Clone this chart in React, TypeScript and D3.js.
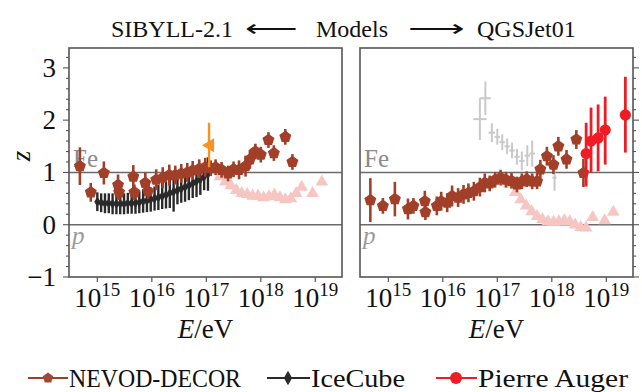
import React from 'react';
import * as d3 from 'd3';

// ---------- data ----------
// NEVOD-DECOR, SIBYLL-2.1 (log10 E, z, error)
const nevodSibLogE = [14.68, 14.88, 15.12, 15.38, 15.40, 15.66, 15.68, 15.88, 15.93, 16.08, 16.20, 16.32, 16.43, 16.54, 16.65, 16.75, 16.87, 16.98, 17.08, 17.17, 17.28, 17.40, 17.50, 17.60, 17.72, 17.80, 17.90, 18.00, 18.14, 18.24, 18.45, 18.58];
const nevodSibZ = [1.12, 0.62, 0.99, 0.76, 0.62, 0.92, 0.62, 0.80, 0.64, 0.86, 0.90, 0.95, 0.95, 0.98, 1.00, 1.04, 1.07, 1.10, 1.08, 1.10, 1.05, 0.98, 1.06, 1.05, 1.12, 1.25, 1.40, 1.34, 1.62, 1.37, 1.68, 1.20];
const nevodSibErr = [0.36, 0.18, 0.22, 0.20, 0.15, 0.22, 0.15, 0.20, 0.15, 0.20, 0.20, 0.20, 0.18, 0.18, 0.18, 0.18, 0.18, 0.18, 0.15, 0.15, 0.15, 0.15, 0.15, 0.18, 0.20, 0.18, 0.15, 0.15, 0.15, 0.15, 0.15, 0.15];

// IceCube, SIBYLL-2.1
const iceLogE = [15.00, 15.07, 15.14, 15.21, 15.28, 15.35, 15.42, 15.49, 15.56, 15.63, 15.70, 15.77, 15.84, 15.91, 15.98, 16.05, 16.12, 16.19, 16.26, 16.33, 16.40, 16.47, 16.54, 16.61, 16.68, 16.75, 16.82, 16.89, 16.96, 17.03];
const iceZ = [0.44, 0.42, 0.41, 0.41, 0.40, 0.40, 0.40, 0.40, 0.41, 0.41, 0.42, 0.43, 0.45, 0.46, 0.48, 0.50, 0.52, 0.55, 0.57, 0.60, 0.63, 0.66, 0.69, 0.72, 0.75, 0.79, 0.83, 0.87, 0.92, 0.97];
const iceErr = [0.18, 0.18, 0.19, 0.19, 0.20, 0.20, 0.20, 0.20, 0.20, 0.20, 0.21, 0.21, 0.22, 0.22, 0.23, 0.23, 0.24, 0.25, 0.26, 0.28, 0.38, 0.27, 0.27, 0.28, 0.28, 0.28, 0.30, 0.30, 0.26, 0.32];

// extra point (orange), SIBYLL-2.1
const orangeLogE = [17.05];
const orangeZ = [1.52];
const orangeLo = [1.10];
const orangeHi = [1.95];

// light triangles, SIBYLL-2.1
const triSibLogE = [17.25, 17.35, 17.45, 17.55, 17.65, 17.75, 17.85, 17.95, 18.05, 18.15, 18.25, 18.35, 18.45, 18.55, 18.65, 18.75, 18.95, 19.12];
const triSibZ = [0.92, 0.82, 0.75, 0.66, 0.60, 0.58, 0.55, 0.55, 0.52, 0.54, 0.57, 0.52, 0.48, 0.50, 0.60, 0.72, 0.60, 0.82];

// NEVOD-DECOR, QGSJet01
const nevodQgsLogE = [14.67, 14.90, 15.12, 15.36, 15.46, 15.67, 15.68, 15.89, 15.97, 16.08, 16.17, 16.28, 16.38, 16.47, 16.57, 16.68, 16.77, 16.86, 16.96, 17.06, 17.16, 17.26, 17.36, 17.45, 17.54, 17.64, 17.73, 17.79, 17.91, 18.03, 18.12, 18.27, 18.45, 18.58];
const nevodQgsZ = [0.47, 0.36, 0.49, 0.30, 0.36, 0.45, 0.24, 0.36, 0.45, 0.42, 0.55, 0.52, 0.58, 0.61, 0.64, 0.72, 0.80, 0.79, 0.86, 0.90, 0.86, 0.84, 0.77, 0.83, 0.87, 0.83, 0.83, 1.06, 1.31, 1.15, 1.50, 1.25, 1.63, 0.99];
const nevodQgsErr = [0.42, 0.15, 0.33, 0.20, 0.15, 0.20, 0.15, 0.18, 0.18, 0.18, 0.20, 0.18, 0.18, 0.18, 0.18, 0.18, 0.18, 0.15, 0.15, 0.15, 0.15, 0.15, 0.15, 0.15, 0.15, 0.15, 0.15, 0.18, 0.18, 0.18, 0.18, 0.18, 0.18, 0.27];

// Pierre Auger, QGSJet01
const augerLogE = [18.63, 18.72, 18.85, 18.98, 19.35];
const augerZ = [1.36, 1.60, 1.66, 1.81, 2.10];
const augerLo = [0.73, 1.00, 1.02, 1.15, 1.38];
const augerHi = [1.95, 2.24, 2.30, 2.45, 2.83];

// grey crosses, QGSJet01
const crossLogE = [16.68, 16.78, 16.90, 17.00, 17.09, 17.18, 17.27, 17.36, 17.45, 17.55, 17.64, 18.05];
const crossZ = [2.02, 2.42, 1.76, 1.68, 1.58, 1.50, 1.42, 1.30, 1.22, 1.32, 1.36, 0.90];
const crossErrZ = [0.40, 0.32, 0.18, 0.15, 0.15, 0.15, 0.15, 0.15, 0.18, 0.20, 0.25, 0.25];
const crossErrLogE = [0.12, 0.10, 0.06, 0.05, 0.05, 0.05, 0.05, 0.05, 0.05, 0.05, 0.05, 0.04];

// light triangles, QGSJet01
const triQgsLogE = [17.22, 17.33, 17.43, 17.53, 17.63, 17.73, 17.83, 17.93, 18.03, 18.13, 18.23, 18.33, 18.43, 18.53, 18.63, 18.75, 18.97, 19.13];
const triQgsZ = [0.78, 0.62, 0.48, 0.36, 0.25, 0.16, 0.10, 0.06, 0.05, 0.06, 0.08, 0.06, 0.00, -0.05, -0.06, 0.14, 0.08, 0.24];

const xTickExps = [15, 16, 17, 18, 19];
const yTickLabels = [3, 2, 1, 0, -1];
const legendLabels = ['NEVOD-DECOR', 'IceCube', 'Pierre Auger'];

// ---------- style ----------
const BROWN = '#a13f29';
const BLACK = '#2a2a2a';
const RED = '#ee1c25';
const PINK = '#f6c6c3';
const GREY = '#c9c9c9';
const ORANGE = '#f7931e';
const FRAME = '#555';
const FONT = 'Liberation Serif';

const Y_TOP = 48;
const Y_BOT = 277;

function pentagonPath(cx: number, cy: number, r: number) {
  const pts: string[] = [];
  for (let i = 0; i < 5; i++) {
    const a = -Math.PI / 2 + (i * 2 * Math.PI) / 5;
    pts.push(`${cx + r * Math.cos(a)},${cy + r * Math.sin(a)}`);
  }
  return 'M' + pts.join('L') + 'Z';
}

function Panel({ x0, x1, side, which }: { x0: number; x1: number; side: 'left' | 'right'; which: 'sib' | 'qgs' }) {
  const x = d3.scaleLog().domain([Math.pow(10, 14.48), Math.pow(10, 19.49)]).range([x0, x1]);
  const y = d3.scaleLinear().domain([-1, 3.38]).range([Y_BOT, Y_TOP]);
  const X = (l: number) => x(Math.pow(10, l));
  const minor = d3.range(-1, 3.39, 0.2).map((v) => Math.round(v * 10) / 10);
  const triSym = d3.symbol().type(d3.symbolTriangle).size(70);
  const diaSym = d3.symbol().type(d3.symbolDiamond).size(32);

  const nl = which === 'sib' ? nevodSibLogE : nevodQgsLogE;
  const nz = which === 'sib' ? nevodSibZ : nevodQgsZ;
  const ne = which === 'sib' ? nevodSibErr : nevodQgsErr;
  const tl = which === 'sib' ? triSibLogE : triQgsLogE;
  const tz = which === 'sib' ? triSibZ : triQgsZ;

  return (
    <g>
      <defs>
        <clipPath id={`clip-${which}`}>
          <rect x={x0} y={Y_TOP} width={x1 - x0} height={Y_BOT - Y_TOP} />
        </clipPath>
      </defs>
      {/* reference lines */}
      <line x1={x0} x2={x1} y1={y(1)} y2={y(1)} stroke="#6a6a6a" strokeWidth={1.5} />
      <line x1={x0} x2={x1} y1={y(0)} y2={y(0)} stroke="#6a6a6a" strokeWidth={1.5} />
      <text x={x0 + 4} y={y(1) - 5} fontFamily={FONT} fontSize={25} fill="#8a8a8a">Fe</text>
      <text x={x0 + 3} y={y(0) + 19} fontFamily={FONT} fontSize={25} fontStyle="italic" fill="#9a9a9a">p</text>

      <g clipPath={`url(#clip-${which})`}>
        {/* light triangles */}
        {tl.map((l, i) => (
          <path key={'t' + i} d={triSym() as string} transform={`translate(${X(l)},${y(tz[i])})`} fill={PINK} />
        ))}
        {/* grey crosses */}
        {which === 'qgs' &&
          crossLogE.map((l, i) => (
            <g key={'c' + i} stroke={GREY} strokeWidth={2}>
              <line x1={X(l)} x2={X(l)} y1={y(crossZ[i] - crossErrZ[i])} y2={y(crossZ[i] + crossErrZ[i])} />
              <line x1={X(l - crossErrLogE[i])} x2={X(l + crossErrLogE[i])} y1={y(crossZ[i])} y2={y(crossZ[i])} />
            </g>
          ))}
        {/* IceCube */}
        {which === 'sib' &&
          iceLogE.map((l, i) => (
            <g key={'i' + i}>
              <line x1={X(l)} x2={X(l)} y1={y(iceZ[i] - iceErr[i])} y2={y(iceZ[i] + iceErr[i])} stroke={BLACK} strokeWidth={2.4} />
              <path d={diaSym() as string} transform={`translate(${X(l)},${y(iceZ[i])})`} fill={BLACK} />
            </g>
          ))}
        {/* NEVOD-DECOR */}
        {nl.map((l, i) => (
          <line key={'ne' + i} x1={X(l)} x2={X(l)} y1={y(nz[i] - ne[i])} y2={y(nz[i] + ne[i])} stroke={BROWN} strokeWidth={2.6} />
        ))}
        {nl.map((l, i) => (
          <path key={'np' + i} d={pentagonPath(X(l), y(nz[i]), 6.3)} fill={BROWN} />
        ))}
        {/* orange */}
        {which === 'sib' &&
          orangeLogE.map((l, i) => (
            <g key={'o' + i}>
              <line x1={X(l)} x2={X(l)} y1={y(orangeLo[i])} y2={y(orangeHi[i])} stroke={ORANGE} strokeWidth={2.4} />
              <path
                d={`M${X(l) - 7},${y(orangeZ[i])}L${X(l) + 5},${y(orangeZ[i]) - 7}L${X(l) + 5},${y(orangeZ[i]) + 7}Z`}
                fill={ORANGE}
              />
            </g>
          ))}
        {/* Pierre Auger */}
        {which === 'qgs' &&
          augerLogE.map((l, i) => (
            <g key={'a' + i}>
              <line x1={X(l)} x2={X(l)} y1={y(augerLo[i])} y2={y(augerHi[i])} stroke={RED} strokeWidth={2.8} />
              <circle cx={X(l)} cy={y(augerZ[i])} r={5.6} fill={RED} />
            </g>
          ))}
      </g>

      {/* frame */}
      <rect x={x0} y={Y_TOP} width={x1 - x0} height={Y_BOT - Y_TOP} fill="none" stroke={FRAME} strokeWidth={1.6} />

      {/* x ticks */}
      {xTickExps.map((e) => (
        <g key={'x' + e}>
          <line x1={X(e)} x2={X(e)} y1={Y_BOT} y2={Y_BOT + 5} stroke={FRAME} strokeWidth={1.2} />
          <text x={X(e)} y={307} textAnchor="middle" fontFamily={FONT} fontSize={27} fill="#111">
            10<tspan dy={-11} fontSize={19}>{e}</tspan>
          </text>
        </g>
      ))}
      <text x={(x0 + x1) / 2} y={338} textAnchor="middle" fontFamily={FONT} fontSize={27} fill="#111">
        <tspan fontStyle="italic">E</tspan>/eV
      </text>

      {/* y ticks */}
      {minor.map((v) => {
        const isMajor = Math.abs(v - Math.round(v)) < 1e-6;
        const len = isMajor ? 6 : 3;
        const xe = side === 'left' ? x0 : x1;
        const dir = side === 'left' ? -1 : 1;
        return <line key={'y' + v} x1={xe} x2={xe + dir * len} y1={y(v)} y2={y(v)} stroke={FRAME} strokeWidth={1.1} />;
      })}
      {side === 'left' &&
        yTickLabels.map((v) => (
          <text key={'yl' + v} x={x0 - 13} y={y(v) + 9} textAnchor="end" fontFamily={FONT} fontSize={27} fill="#111">
            {v < 0 ? '\u2212' + Math.abs(v) : v}
          </text>
        ))}
    </g>
  );
}

export default function App() {
  const legendY = 378;
  return (
    <svg width={642} height={392} style={{ display: 'block', position: 'absolute', left: 0, top: 0, background: '#fff' }}>
      <rect width={642} height={392} fill="#fff" />
      {/* title */}
      <g fontFamily={FONT} fontSize={24} fill="#111">
        <text x={233} y={37} textAnchor="end">SIBYLL-2.1</text>
        <text x={271} y={37} textAnchor="middle" textLength={52} lengthAdjust="spacingAndGlyphs">{'\u27F5'}</text>
        <text x={352} y={37} textAnchor="middle">Models</text>
        <text x={436} y={37} textAnchor="middle" textLength={56} lengthAdjust="spacingAndGlyphs">{'\u27F6'}</text>
        <text x={477} y={37} textAnchor="start">QGSJet01</text>
      </g>
      {/* y label */}
      <text transform="translate(30,156) rotate(-90)" textAnchor="middle" fontFamily={FONT} fontSize={27} fontStyle="italic" fill="#111">z</text>

      <Panel x0={69} x1={342} side="left" which="sib" />
      <Panel x0={360} x1={633} side="right" which="qgs" />

      {/* legend */}
      <g fontFamily={FONT} fontSize={25} fill="#111">
        <line x1={28} x2={68} y1={legendY} y2={legendY} stroke={BROWN} strokeWidth={2} />
        <path d={pentagonPath(48, legendY, 5.5)} fill="#9a4a38" />
        <text x={69} y={legendY + 9} textLength={172} lengthAdjust="spacingAndGlyphs">{legendLabels[0]}</text>

        <line x1={267} x2={310} y1={legendY} y2={legendY} stroke={BLACK} strokeWidth={2} />
        <path d={d3.symbol().type(d3.symbolDiamond).size(60)() as string} transform={`translate(288,${legendY})`} fill={BLACK} />
        <text x={311} y={legendY + 9} textLength={94} lengthAdjust="spacingAndGlyphs">{legendLabels[1]}</text>

        <line x1={436} x2={477} y1={legendY} y2={legendY} stroke={RED} strokeWidth={2} />
        <circle cx={456} cy={legendY} r={6} fill={RED} />
        <text x={478} y={legendY + 9} textLength={150} lengthAdjust="spacingAndGlyphs">{legendLabels[2]}</text>
      </g>
    </svg>
  );
}
